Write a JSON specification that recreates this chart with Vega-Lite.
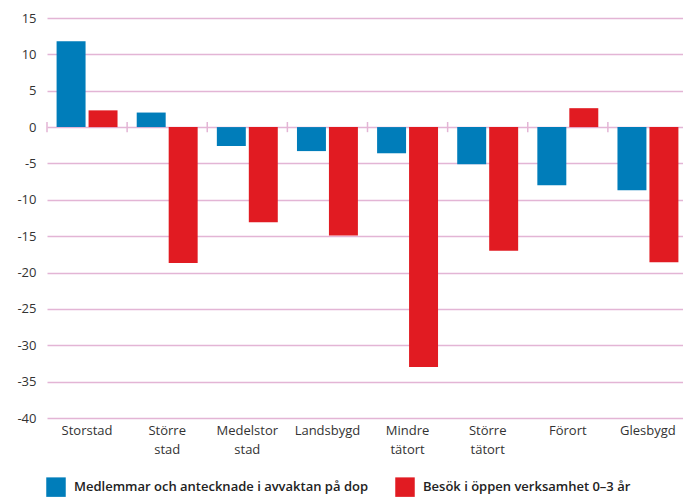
{
  "$schema": "https://vega.github.io/schema/vega-lite/v6.json",
  "width": 636,
  "height": 400,
  "padding": {"left": 16, "top": 12, "right": 0, "bottom": 0},
  "autosize": {"type": "pad"},
  "background": "white",
  "config": {"view": {"stroke": null}, "font": "Open Sans"},
  "data": {
    "values": [
      {"omrade": "Storstad", "serie": "Medlemmar och antecknade i avvaktan på dop", "varde": 11.8},
      {"omrade": "Storstad", "serie": "Besök i öppen verksamhet 0–3 år", "varde": 2.3},
      {"omrade": "Större stad", "serie": "Medlemmar och antecknade i avvaktan på dop", "varde": 2.0},
      {"omrade": "Större stad", "serie": "Besök i öppen verksamhet 0–3 år", "varde": -18.7},
      {"omrade": "Medelstor stad", "serie": "Medlemmar och antecknade i avvaktan på dop", "varde": -2.6},
      {"omrade": "Medelstor stad", "serie": "Besök i öppen verksamhet 0–3 år", "varde": -13.1},
      {"omrade": "Landsbygd", "serie": "Medlemmar och antecknade i avvaktan på dop", "varde": -3.3},
      {"omrade": "Landsbygd", "serie": "Besök i öppen verksamhet 0–3 år", "varde": -14.9},
      {"omrade": "Mindre tätort", "serie": "Medlemmar och antecknade i avvaktan på dop", "varde": -3.6},
      {"omrade": "Mindre tätort", "serie": "Besök i öppen verksamhet 0–3 år", "varde": -33.0},
      {"omrade": "Större tätort", "serie": "Medlemmar och antecknade i avvaktan på dop", "varde": -5.1},
      {"omrade": "Större tätort", "serie": "Besök i öppen verksamhet 0–3 år", "varde": -17.0},
      {"omrade": "Förort", "serie": "Medlemmar och antecknade i avvaktan på dop", "varde": -8.0},
      {"omrade": "Förort", "serie": "Besök i öppen verksamhet 0–3 år", "varde": 2.6},
      {"omrade": "Glesbygd", "serie": "Medlemmar och antecknade i avvaktan på dop", "varde": -8.7},
      {"omrade": "Glesbygd", "serie": "Besök i öppen verksamhet 0–3 år", "varde": -18.6}
    ]
  },
  "layer": [
    {
      "mark": {"type": "bar"},
      "encoding": {
        "x": {
          "field": "omrade", "type": "nominal",
          "sort": ["Storstad", "Större stad", "Medelstor stad", "Landsbygd", "Mindre tätort", "Större tätort", "Förort", "Glesbygd"],
          "scale": {"paddingInner": 0, "paddingOuter": 0, "range": [0, 641]},
          "axis": {"title": null, "domain": false, "ticks": false, "grid": false, "labelAngle": 0, "labelFontSize": 13, "labelColor": "#333333", "labelPadding": 6, "labelLineHeight": 19, "labelExpr": "split(datum.label, ' ')"}
        },
        "xOffset": {
          "field": "serie", "type": "nominal",
          "sort": ["Medlemmar och antecknade i avvaktan på dop", "Besök i öppen verksamhet 0–3 år"],
          "scale": {"paddingInner": 0.094, "paddingOuter": 0.3}
        },
        "y": {
          "field": "varde", "type": "quantitative",
          "scale": {"domain": [-40, 15], "nice": false, "zero": false},
          "axis": {"title": null, "domain": false, "ticks": false, "values": [-40, -35, -30, -25, -20, -15, -10, -5, 0, 5, 10, 15], "gridColor": "#e3b5d5", "gridWidth": 1.5, "labelFontSize": 13, "labelColor": "#333333", "labelPadding": 11, "labelExpr": "replace(datum.label, '−', '-')"}
        },
        "color": {
          "field": "serie", "type": "nominal",
          "sort": ["Medlemmar och antecknade i avvaktan på dop", "Besök i öppen verksamhet 0–3 år"],
          "scale": {"domain": ["Medlemmar och antecknade i avvaktan på dop", "Besök i öppen verksamhet 0–3 år"], "range": ["#007dba", "#e11b22"]},
          "legend": {"orient": "none", "legendX": -1, "legendY": 459, "direction": "horizontal", "columns": 2, "title": null, "symbolType": "square", "symbolSize": 380, "symbolStrokeWidth": 0, "symbolOpacity": 1, "labelFontSize": 13, "labelFontWeight": 600, "labelColor": "#222222", "columnPadding": 27, "labelOffset": 8, "labelLimit": 400}
        }
      }
    },
    {
      "transform": [{"filter": "datum.serie == 'Medlemmar och antecknade i avvaktan på dop'"}],
      "mark": {"type": "rule", "color": "#e3b5d5", "strokeWidth": 1.5},
      "encoding": {
        "x": {
          "field": "omrade", "type": "nominal", "bandPosition": 0,
          "sort": ["Storstad", "Större stad", "Medelstor stad", "Landsbygd", "Mindre tätort", "Större tätort", "Förort", "Glesbygd"],
          "axis": {"title": null, "domain": false, "ticks": false, "grid": false, "labelAngle": 0, "labelFontSize": 13, "labelColor": "#333333", "labelPadding": 6, "labelLineHeight": 19, "labelExpr": "split(datum.label, ' ')"}
        },
        "y": {
          "datum": -0.7, "type": "quantitative",
          "axis": {"title": null, "domain": false, "ticks": false, "values": [-40, -35, -30, -25, -20, -15, -10, -5, 0, 5, 10, 15], "gridColor": "#e3b5d5", "gridWidth": 1.5, "labelFontSize": 13, "labelColor": "#333333", "labelPadding": 11, "labelExpr": "replace(datum.label, '−', '-')"}
        },
        "y2": {"datum": 0.7}
      }
    }
  ]
}
